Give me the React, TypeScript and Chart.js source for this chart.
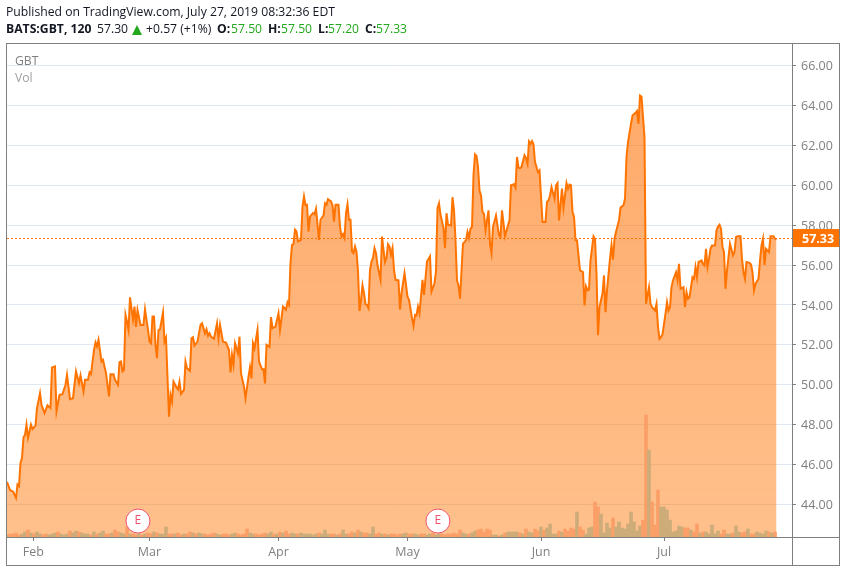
import React, { useEffect, useRef } from "react";
import { Chart, registerables } from "chart.js";

Chart.register(...registerables);

const closeBars = [
  0, 2, 4, 6, 7, 8, 9, 10, 11, 12, 13, 14, 16, 17, 19, 20, 22, 23, 25, 27, 29, 30, 32, 33, 35, 37, 39, 40, 42, 44, 46, 48, 49, 51, 52, 54, 55, 56, 58, 59, 60, 61, 63, 64, 66, 68, 69, 71, 72, 74, 75, 76, 77, 78,
  79, 80, 81, 82, 84, 85, 86, 87, 89, 91, 92, 94, 95, 96, 97, 98, 99, 100, 101, 102, 104, 105, 106, 108, 109, 110, 111, 113, 114, 115, 116, 118, 119, 120, 122, 123, 124, 125, 127, 129, 130, 132, 133, 134, 135, 136, 138, 140, 141, 142, 144, 146, 148, 149, 150, 151, 152, 154, 155, 156, 158, 159, 161, 162, 163, 164, 165, 167, 168, 170, 171, 172, 173, 175,
  176, 177, 179, 181, 182, 184, 186, 187, 188, 189, 190, 191, 192, 193, 194, 196, 197, 198, 199, 200, 201, 202, 204, 205, 206, 208, 209, 211, 212, 213, 214, 216, 217, 218, 219, 221, 222, 223, 224, 225, 226, 227, 228, 229, 230, 231, 232, 233, 234, 235, 236, 237, 238, 239, 240, 241, 242, 243, 244, 245, 246, 247, 249, 250, 251, 252, 253, 254, 255, 256, 257, 258, 259, 261, 262, 263, 265, 267, 268, 270, 271, 272, 273, 274, 275, 277, 278, 280, 282, 283, 285, 286, 287, 288, 289, 291, 292, 293, 294, 296, 297, 298, 299, 300, 301, 302,
  304, 306, 307, 308, 309, 310, 311, 312, 313, 314, 315, 316, 317, 318, 319, 321, 322, 323, 324, 326, 328, 329, 330, 332, 334, 335, 336, 338, 339, 340, 341, 342, 343, 345, 346, 347, 348, 349, 350, 351, 352, 354, 355, 357, 359, 360, 361, 362, 363, 365, 366, 367, 368, 370, 371, 373, 374, 375, 376, 377, 378, 379, 380, 382, 384, 385, 386, 387, 388, 389, 391, 392, 393, 394, 395, 397, 398, 399, 400, 402, 403, 404, 405, 406, 408, 409, 411, 412, 413, 414, 416, 417, 419, 420, 421, 422, 423, 424, 425, 426,
  428, 429, 430, 432, 433, 434, 435, 436, 437, 439, 440, 441, 442, 443, 444, 446, 447, 448, 449, 450, 451, 452, 453, 454, 455, 457, 458, 459, 460, 461, 463, 464, 465, 466, 467, 468, 469, 470, 472, 473, 474, 475, 476, 477, 478, 479, 480, 481, 482, 484, 485, 486, 487, 489, 490, 491, 492, 493, 495, 496, 497, 498, 499, 501, 502, 503, 504, 505, 506, 507, 508, 509, 511, 512, 513,
];

const closes = [
  45.13, 44.72, 44.65, 44.33, 45.0, 44.92, 46.08, 46.33, 47.38, 47.48, 48.0, 47.33, 48.0, 47.78, 47.95, 48.83, 49.58, 49.0, 48.58, 48.97, 48.83, 50.87, 50.92, 48.67, 49.5, 49.53, 50.0, 50.5, 49.28, 49.33, 50.67, 50.08, 50.47, 49.67, 50.25, 50.25, 50.62, 50.53, 51.75, 52.12, 51.92, 52.25, 51.17, 51.25, 50.58, 49.42, 50.53, 50.53, 50.25, 50.0, 51.13, 51.17, 50.67, 50.75,
  53.5, 53.16, 52.75, 54.38, 53.28, 53.92, 52.9, 53.75, 53.0, 53.0, 53.78, 52.75, 52.16, 52.08, 53.42, 53.42, 52.0, 51.33, 52.75, 52.78, 53.63, 52.16, 52.36, 48.4, 49.49, 49.15, 50.16, 49.87, 49.77, 50.16, 49.54, 49.74, 51.16, 50.83, 50.7, 52.33, 52.38, 51.96, 52.16, 53.0, 53.08, 52.58, 52.78, 52.45, 52.58, 52.41, 52.3, 53.08, 52.33, 53.0, 52.16, 52.11, 51.74, 50.62, 51.5, 51.0, 52.08, 51.58, 52.41, 50.57, 49.9, 49.32, 50.4, 50.88, 50.32, 52.08, 51.83, 52.75, 51.16, 50.78, 50.78, 50.07, 52.0, 51.9,
  53.39, 52.84, 52.92, 53.59, 52.75, 53.92, 53.76, 54.14, 54.0, 56.1, 57.01, 57.05, 57.77, 57.68, 57.18, 57.26, 58.94, 59.44, 59.0, 59.02, 57.68, 58.43, 58.6, 58.55, 58.82, 57.26, 58.27, 58.48, 59.1, 59.02, 59.3, 59.19, 59.0, 58.18, 59.02, 59.02, 57.93, 57.43, 57.55, 57.35, 58.6, 59.05, 58.27, 58.27, 56.68, 56.6, 56.93, 56.68, 55.68, 53.7, 54.26, 54.98, 54.59, 54.04, 54.0, 53.84, 55.76, 56.18, 56.35, 56.85, 56.6, 56.0, 55.26, 57.43, 56.76, 56.15, 56.35, 57.05, 56.93, 56.51, 56.85, 55.76, 55.26, 55.23, 53.76, 54.59, 55.59, 54.42, 54.26, 53.34, 52.95, 53.5, 53.47, 53.92, 53.59, 55.26, 54.51, 56.18, 56.43, 54.67, 55.09, 55.68, 58.85, 59.1, 58.52, 57.85, 56.85, 58.6, 58.02, 57.98, 59.4, 58.74, 57.24, 55.23, 54.98, 54.31,
  57.07, 57.24, 57.66, 57.37, 57.82, 57.91, 60.5, 61.55, 61.47, 60.91, 59.74, 59.49, 58.66, 58.57, 57.74, 58.74, 57.07, 56.6, 57.91, 58.49, 57.49, 57.41, 58.74, 57.44, 57.99, 58.24, 60.0, 60.05, 59.88, 61.42, 60.88, 60.86, 60.91, 61.5, 61.36, 61.08, 62.2, 62.08, 62.22, 62.05, 61.16, 60.66, 60.75, 58.16, 58.16, 59.16, 59.24, 59.49, 59.91, 59.33, 60.0, 60.11, 58.24, 59.83, 58.88, 60.11, 59.83, 60.03, 60.0, 58.66, 58.44, 57.24, 57.24, 55.73, 55.65, 53.98, 54.93, 54.73, 54.77, 56.24, 57.44, 57.32, 55.57, 52.48, 53.9, 54.57, 55.48, 53.64, 54.73, 56.32, 56.99, 56.27, 57.32, 57.66, 58.24, 58.88, 59.0, 59.33, 61.41, 62.16, 63.08, 63.5, 63.63, 63.72, 63.08, 64.5, 64.45, 63.42, 62.41, 54.06,
  54.89, 54.06, 53.89, 53.72, 54.06, 52.89, 52.3, 52.39, 52.52, 53.56, 54.14, 53.72, 53.89, 54.89, 55.23, 55.64, 55.23, 56.06, 54.81, 54.86, 54.89, 53.89, 54.64, 54.31, 54.39, 55.39, 55.31, 55.9, 55.39, 56.15, 56.23, 56.06, 55.98, 56.81, 55.9, 56.31, 56.81, 56.98, 56.98, 57.73, 57.93, 58.02, 57.82, 56.9, 56.65, 54.81, 55.73, 56.4, 57.07, 56.48, 56.65, 57.4, 57.45, 57.45, 56.31, 55.64, 55.31, 56.15, 56.11, 56.03, 55.64, 54.73, 55.06, 55.31, 56.23, 56.98, 57.32, 56.0, 56.81, 56.73, 56.65, 57.45, 57.45, 57.32, 57.28,
];

// Volume in thousands of shares, one value every second bar
const volumes = [
  2, 3, 3, 4, 2, 3, 5, 7, 4, 3, 5, 3, 2, 3, 2, 3, 4, 5, 3, 2,
  3, 6, 4, 6, 5, 4, 3, 3, 2, 5, 3, 4, 6, 3, 3, 4, 7, 5, 4, 3,
  10, 3, 3, 2, 3, 2, 3, 4, 3, 5, 4, 3, 3, 10, 3, 3, 3, 4, 2, 3,
  3, 5, 4, 3, 4, 3, 3, 2, 3, 4, 3, 2, 3, 3, 2, 3, 4, 3, 2, 3,
  8, 4, 3, 3, 2, 3, 4, 3, 5, 3, 3, 5, 4, 6, 3, 4, 3, 3, 4, 3,
  3, 3, 2, 3, 4, 3, 7, 3, 3, 3, 2, 3, 7, 3, 3, 5, 4, 7, 5, 4,
  4, 3, 10, 3, 4, 3, 3, 2, 3, 3, 2, 3, 3, 4, 3, 3, 3, 2, 3, 3,
  2, 3, 4, 2, 3, 3, 2, 3, 3, 4, 3, 7, 4, 3, 3, 4, 6, 7, 8, 5,
  8, 7, 2, 2, 1, 2, 4, 5, 5, 5, 5, 4, 3, 8, 5, 4, 8, 6, 10, 7,
  9, 13, 3, 3, 6, 5, 8, 6, 9, 8, 25, 10, 7, 3, 9, 10, 35, 30, 23, 4,
  14, 9, 19, 10, 15, 9, 8, 13, 25, 15, 6, 11, 17, 122, 87, 35, 12, 47, 30, 30,
  27, 17, 5, 6, 11, 10, 9, 9, 7, 5, 13, 4, 5, 5, 3, 12, 3, 6, 3, 7,
  3, 3, 4, 11, 5, 4, 5, 8, 3, 3, 5, 4, 3, 6, 5, 4, 5,
];
const barsPerVolume = 2;

const priceTicks = [44, 46, 48, 50, 52, 54, 56, 58, 60, 62, 64, 66];
const monthBars = [17.5, 95, 181, 267, 356, 438];
const monthLabels = ["Feb", "Mar", "Apr", "May", "Jun", "Jul"];
const lastPrice = 57.33;
const earningsBars = [87.3, 287.3];
const earningsLevel = 43.17;
const earningsLabel = "E";

const FONT = "'Open Sans', sans-serif";
const ORANGE = "#ff7400";
const TICK = "#808080";
const GRID = "#e1e8f0";
const FRAME = "#7f7f7f";
const UP_VOL = "#cdac79";
const DOWN_VOL = "#fb9f68";
const GREEN = "#21a81c";

function isRising(bar: number) {
  let k = closeBars.findIndex((b) => b > bar);
  if (k < 0) k = closeBars.length;
  k -= 1;
  if (k < 1) return true;
  return closes[k] >= closes[k - 1];
}

const framePlugin = {
  id: "frame",
  afterDraw(chart: any) {
    const { ctx, chartArea, scales } = chart;
    const left = chartArea.left - 0.5;
    const top = chartArea.top - 0.5;
    const right = scales.y.right + 0.5;
    const bottom = scales.x.bottom + 0.5;
    ctx.save();
    ctx.strokeStyle = FRAME;
    ctx.lineWidth = 1;
    ctx.strokeRect(left, top, right - left, bottom - top);
    ctx.beginPath();
    ctx.moveTo(chartArea.right + 0.5, top);
    ctx.lineTo(chartArea.right + 0.5, bottom);
    ctx.moveTo(left, chartArea.bottom + 0.5);
    ctx.lineTo(right, chartArea.bottom + 0.5);
    ctx.stroke();

    // Last price tag
    const y = scales.y.getPixelForValue(lastPrice);
    ctx.fillStyle = ORANGE;
    ctx.fillRect(chartArea.right + 1, y - 9.5, scales.y.right - chartArea.right - 1, 18);
    ctx.fillStyle = "#ffffff";
    ctx.font = `bold 12.5px ${FONT}`;
    ctx.textBaseline = "middle";
    ctx.textAlign = "left";
    ctx.fillText(lastPrice.toFixed(2), chartArea.right + 10, y + 0.5);

    // Earnings glyphs
    const meta = chart.getDatasetMeta(chart.data.datasets.length - 1);
    ctx.fillStyle = "#f0506e";
    ctx.font = `12px ${FONT}`;
    ctx.textAlign = "center";
    meta.data.forEach((pt: any) => ctx.fillText(earningsLabel, pt.x, pt.y));
    ctx.restore();
  },
};

const textStyle: React.CSSProperties = {
  position: "absolute",
  whiteSpace: "nowrap",
  fontFamily: FONT,
  fontSize: 12.2,
  lineHeight: "16px",
  color: "#131722",
};

function Txt({ x, y, c, b, children }: { x: number; y: number; c?: string; b?: boolean; children: React.ReactNode }) {
  return (
    <span style={{ ...textStyle, left: x, top: y, color: c ?? "#131722", fontWeight: b ? 700 : 400 }}>{children}</span>
  );
}

export default function App() {
  const ref = useRef<HTMLCanvasElement>(null);

  useEffect(() => {
    const chart = new Chart(ref.current!, {
      data: {
        datasets: [
          {
            type: "line",
            data: closeBars.map((b, i) => ({ x: b, y: closes[i] })),
            borderColor: ORANGE,
            borderWidth: 2,
            pointRadius: 0,
            tension: 0,
            fill: "start",
            order: 3,
            backgroundColor: (c: any) => {
              const area = c.chart.chartArea;
              if (!area) return "rgba(255,116,0,0.5)";
              const g = c.chart.ctx.createLinearGradient(0, area.top, 0, area.bottom);
              g.addColorStop(0, "rgba(255,108,0,0.6)");
              g.addColorStop(1, "rgba(255,116,0,0.45)");
              return g;
            },
          },
          {
            type: "bar",
            yAxisID: "vol",
            data: volumes.map((v, i) => ({ x: i * barsPerVolume, y: v })),
            backgroundColor: volumes.map((_, i) => (isRising(i * barsPerVolume) ? UP_VOL : DOWN_VOL)),
            barThickness: 3,
            order: 2,
          },
          {
            type: "line",
            data: [
              { x: 0, y: lastPrice },
              { x: 523.33, y: lastPrice },
            ],
            borderColor: ORANGE,
            borderWidth: 1,
            borderDash: [2, 2],
            pointRadius: 0,
            fill: false,
            order: 1,
          },
          {
            type: "line",
            showLine: false,
            data: earningsBars.map((b) => ({ x: b, y: earningsLevel })),
            pointRadius: 12,
            pointBackgroundColor: "#ffffff",
            pointBorderColor: "#f0506e",
            pointBorderWidth: 1,
            order: 0,
            clip: false,
          },
        ],
      } as any,
      options: {
        responsive: false,
        animation: false,
        events: [],
        layout: { autoPadding: false, padding: { left: 7, top: 44, right: 7, bottom: 7 } },
        plugins: { legend: { display: false }, tooltip: { enabled: false } },
        scales: {
          x: {
            type: "linear",
            offset: false,
            min: 0,
            max: 523.33,
            border: { display: false },
            grid: { offset: false, drawOnChartArea: false, drawTicks: true, tickLength: 4, tickColor: FRAME },
            ticks: {
              color: TICK,
              font: { family: FONT, size: 12.5 },
              autoSkip: false,
              maxRotation: 0,
              padding: 4,
              callback: (v: any) => {
                const k = monthBars.indexOf(v);
                return k >= 0 ? monthLabels[k] : "";
              },
            },
            afterBuildTicks: (s: any) => {
              s.ticks = monthBars.map((value) => ({ value }));
            },
            afterFit: (s: any) => {
              s.height = 28;
            },
          },
          y: {
            position: "right",
            min: 42.37,
            max: 67.08,
            border: { display: false },
            grid: { color: GRID, lineWidth: 1, drawTicks: true, tickLength: 4, tickColor: FRAME },
            ticks: {
              color: TICK,
              font: { family: FONT, size: 12.5 },
              padding: 5,
              labelOffset: 1,
              callback: (v: any) => Number(v).toFixed(2),
            },
            afterBuildTicks: (s: any) => {
              s.ticks = priceTicks.map((value) => ({ value }));
            },
            afterFit: (s: any) => {
              s.width = 47;
            },
          },
          vol: {
            display: false,
            position: "right",
            min: 0,
            max: 493,
            afterFit: (s: any) => {
              s.width = 0;
            },
          },
        },
      } as any,
      plugins: [framePlugin],
    } as any);
    return () => chart.destroy();
  }, []);

  return (
    <div style={{ position: "absolute", left: 0, top: 0, width: 846, height: 572, background: "#fff", overflow: "hidden" }}>
      <canvas ref={ref} width={846} height={572} style={{ display: "block" }} />
      <Txt x={6} y={4}>Published on TradingView.com, July 27, 2019 08:32:36 EDT</Txt>
      <Txt x={6} y={21} b>BATS:GBT, 120</Txt>
      <Txt x={97} y={21}>57.30</Txt>
      <span style={{ position: "absolute", left: 132, top: 25, width: 0, height: 0, borderLeft: "5.5px solid transparent", borderRight: "5.5px solid transparent", borderBottom: `10px solid ${GREEN}` }} />
      <Txt x={146} y={21}>+0.57 (+1%)</Txt>
      <Txt x={217} y={21} b>O:</Txt>
      <Txt x={231} y={21} c={GREEN}>57.50</Txt>
      <Txt x={268} y={21} b>H:</Txt>
      <Txt x={281} y={21} c={GREEN}>57.50</Txt>
      <Txt x={318} y={21} b>L:</Txt>
      <Txt x={328} y={21} c={GREEN}>57.20</Txt>
      <Txt x={365} y={21} b>C:</Txt>
      <Txt x={376} y={21} c={GREEN}>57.33</Txt>
      <Txt x={15} y={53} c="#808080">GBT</Txt>
      <Txt x={15} y={70} c="#a0a0a0">Vol</Txt>
    </div>
  );
}
